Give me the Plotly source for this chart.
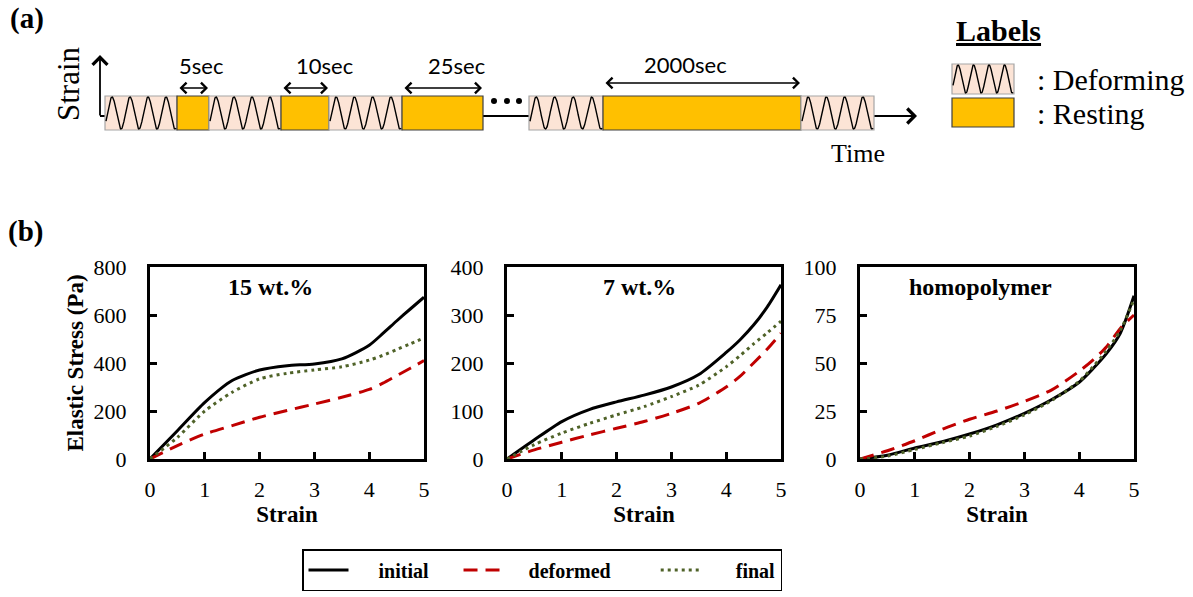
import numpy as np
import plotly.graph_objects as go

W, H = 1193, 597

# ---------------- data: panel (b) ----------------
strain = [0, 0.5, 1, 1.5, 2, 2.5, 3, 3.5, 4, 4.25, 4.5, 4.75, 5]
p15_initial = [0, 118, 236, 327, 371, 389, 396, 417, 474, 523, 575, 625, 674]
p15_deformed = [0, 56, 104, 139, 174, 202, 229, 257, 290, 316, 347, 378, 410]
p15_final = [0, 90, 200, 278, 334, 357, 371, 384, 412, 432, 456, 480, 505]
p7_initial = [0, 40, 78, 103, 119, 133, 150, 176, 222, 248, 279, 317, 363]
p7_deformed = [0, 19, 35, 50, 64, 78, 95, 116, 150, 172, 200, 229, 262]
p7_final = [0, 30, 54, 74, 92, 109, 130, 154, 192, 215, 240, 263, 287]
homo_initial = [0, 2, 5.7, 9, 13, 17.8, 23.8, 31, 40, 47, 55, 65.5, 85]
homo_deformed = [0, 4.3, 9.5, 15.5, 20.7, 25, 30, 36, 45.7, 51.5, 58.5, 68, 75]
homo_final = [0, 1.5, 5, 8.5, 12, 17, 23, 30.5, 40.5, 48, 56.5, 67, 83]

panel_titles = ["15 wt.%", "7 wt.%", "homopolymer"]
y_ticks = [[0, 200, 400, 600, 800], [0, 100, 200, 300, 400], [0, 25, 50, 75, 100]]
x_ticks = [0, 1, 2, 3, 4, 5]
series_names = ["initial", "deformed", "final"]

# ---------------- data: panel (a) schematic ----------------
seg_kinds = ["deform", "rest", "deform", "rest", "deform", "rest", "gap", "deform", "rest", "deform"]
seg_widths = [72, 32, 72, 48, 73, 81, 46, 74, 198, 73]
rest_labels = ["5sec", "10sec", "25sec", "2000sec"]

# ---------------- styles / layout ----------------
SERIF = "Liberation Serif"
SANS = "Lato"
colors = {"initial": "black", "deformed": "#C00000", "final": "#4F6228"}
dashes = {"initial": "solid", "deformed": "14px,8px", "final": "3px,4px"}
DEF_FILL, DEF_LINE = "#FCE4D6", "#A6A6A6"
REST_FILL, REST_LINE = "#FFC000", "#3F3F3F"
NB = "\u00a0"
legend_pad = {"initial": (5, 5), "deformed": (4, 8), "final": (6, 0)}


def px_x(p):
    return p / W


def px_y(p):
    return 1 - p / H


fig = go.Figure()

panels = [
    (p15_initial, p15_deformed, p15_final),
    (p7_initial, p7_deformed, p7_final),
    (homo_initial, homo_deformed, homo_final),
]
x_dom = [(150, 424), (507, 781), (860, 1134)]
y_dom = (459, 267)
title_fx = [0.438, 0.485, 0.438]
tick_font = dict(family=SERIF, size=22, color="black")

for i, series in enumerate(panels):
    ax = "" if i == 0 else str(i + 1)
    for name, vals in zip(series_names, series):
        lp, tp = legend_pad[name]
        fig.add_trace(go.Scatter(
            x=strain, y=vals, mode="lines", name=NB * lp + name + NB * tp,
            line=dict(color=colors[name], width=3, dash=dashes[name], shape="spline", smoothing=0.7),
            xaxis="x" + ax, yaxis="y" + ax, showlegend=(i == 0), hoverinfo="skip",
        ))
    common = dict(showline=True, linecolor="black", linewidth=3, mirror=True,
                  ticks="inside", ticklen=7, tickwidth=2.5, tickcolor="black",
                  showgrid=False, zeroline=False, automargin=False,
                  tickfont=tick_font)
    fig.layout["xaxis" + ax] = dict(
        common, domain=[px_x(x_dom[i][0]), px_x(x_dom[i][1])], anchor="y" + ax,
        range=[0, 5], tickvals=x_ticks, ticklabelstandoff=9,
        title=dict(text="<b>Strain</b>", font=dict(family=SERIF, size=23, color="black"), standoff=0),
    )
    ydict = dict(
        common, domain=[px_y(y_dom[0]), px_y(y_dom[1])], anchor="x" + ax,
        range=[0, y_ticks[i][-1]], tickvals=y_ticks[i], ticklabelstandoff=16,
    )
    if i == 0:
        ydict["title"] = dict(text="<b>Elastic Stress (Pa)</b>",
                              font=dict(family=SERIF, size=23, color="black"), standoff=4)
    fig.layout["yaxis" + ax] = ydict
    fig.add_annotation(
        text="<b>%s</b>" % panel_titles[i], xref="x%s domain" % ax, yref="y%s domain" % ax,
        x=title_fx[i], y=0.895, showarrow=False, xanchor="center", yanchor="middle",
        font=dict(family=SERIF, size=24, color="black"),
    )

# ---------------- panel (a): schematic on a pixel-scaled hidden axis ----------------
fig.layout["xaxis4"] = dict(domain=[0, 1], range=[0, W], visible=False, anchor="y4",
                            fixedrange=True, automargin=False)
fig.layout["yaxis4"] = dict(domain=[0, 1], range=[H, 0], visible=False, anchor="x4",
                            fixedrange=True, automargin=False)

shapes = []
BASE_Y = 116
TOP, BOT = 96, 130
x0_time = 105

# baseline of the time axis (under the blocks)
shapes.append(dict(type="line", xref="x4", yref="y4", x0=100, x1=912, y0=BASE_Y, y1=BASE_Y,
                   line=dict(color="black", width=1.8), layer="below"))


def wave_trace(xa, xb, ytop, ybot, periods=4.0):
    xs = np.linspace(xa + 1, xb - 1, 200)
    P = (xb - xa) / periods
    mid = (ytop + ybot) / 2
    amp = (ybot - ytop) / 2 - 1
    ys = mid - amp * np.cos(2 * np.pi * (xs - xa - 0.39 * P) / P)
    return go.Scatter(x=xs, y=ys, mode="lines", line=dict(color="black", width=1.4),
                      xaxis="x4", yaxis="y4", showlegend=False, hoverinfo="skip")


annotations = []
label_dx = [8, 19, 14, -17]
arrow_y = [88, 88, 88, 83]
label_y = [65, 65, 65, 64]
cur = x0_time
r = 0
for kind, w in zip(seg_kinds, seg_widths):
    xa, xb = cur, cur + w
    if kind == "deform":
        shapes.append(dict(type="rect", xref="x4", yref="y4", x0=xa, x1=xb, y0=TOP, y1=BOT,
                           fillcolor=DEF_FILL, line=dict(color=DEF_LINE, width=1.2), layer="below"))
        fig.add_trace(wave_trace(xa, xb, TOP, BOT))
    elif kind == "rest":
        shapes.append(dict(type="rect", xref="x4", yref="y4", x0=xa, x1=xb, y0=TOP, y1=BOT,
                           fillcolor=REST_FILL, line=dict(color=REST_LINE, width=1.2), layer="below"))
        annotations.append(dict(xref="x4", yref="y4", axref="x4", ayref="y4",
                                x=xb - 1, y=arrow_y[r], ax=xa + 1, ay=arrow_y[r], text="",
                                showarrow=True, arrowhead=4, startarrowhead=4, arrowside="end+start",
                                arrowsize=1.6, startarrowsize=1.6, arrowwidth=1.3, arrowcolor="black"))
        annotations.append(dict(xref="x4", yref="y4", x=(xa + xb) / 2 + label_dx[r], y=label_y[r],
                                text=rest_labels[r], showarrow=False,
                                font=dict(family=SANS, size=22, color="black")))
        r += 1
    else:
        fig.add_trace(go.Scatter(x=[xa + 11, xa + 24, xa + 36], y=[101, 101, 101], mode="markers",
                                 marker=dict(color="black", size=6), xaxis="x4", yaxis="y4",
                                 showlegend=False, hoverinfo="skip"))
    cur = xb

# strain (vertical) arrow and time arrow heads
annotations.append(dict(xref="x4", yref="y4", axref="x4", ayref="y4", x=100, y=55, ax=100, ay=BASE_Y + 1,
                        text="", showarrow=True, arrowhead=4, arrowsize=1.6, arrowwidth=1.8,
                        arrowcolor="black"))
annotations.append(dict(xref="x4", yref="y4", axref="x4", ayref="y4", x=917, y=BASE_Y, ax=885, ay=BASE_Y,
                        text="", showarrow=True, arrowhead=4, arrowsize=1.6, arrowwidth=1.8,
                        arrowcolor="black"))
annotations.append(dict(xref="x4", yref="y4", x=68, y=84, text="Strain", textangle=-90, showarrow=False,
                        font=dict(family=SERIF, size=31, color="black")))
annotations.append(dict(xref="x4", yref="y4", x=858, y=153, text="Time", showarrow=False,
                        font=dict(family=SERIF, size=26, color="black")))

# Labels key
annotations.append(dict(xref="x4", yref="y4", x=998, y=30, text="<u><b>Labels</b></u>", showarrow=False,
                        font=dict(family=SERIF, size=30, color="black")))
shapes.append(dict(type="rect", xref="x4", yref="y4", x0=952, x1=1014, y0=64, y1=94,
                   fillcolor=DEF_FILL, line=dict(color=DEF_LINE, width=1.2), layer="below"))
fig.add_trace(wave_trace(952, 1014, 64, 94))
shapes.append(dict(type="rect", xref="x4", yref="y4", x0=952, x1=1014, y0=98, y1=127,
                   fillcolor=REST_FILL, line=dict(color=REST_LINE, width=1.2), layer="below"))
annotations.append(dict(xref="x4", yref="y4", x=1035, y=79, xanchor="left", text=": Deforming",
                        showarrow=False, font=dict(family=SERIF, size=30, color="black")))
annotations.append(dict(xref="x4", yref="y4", x=1035, y=113, xanchor="left", text=": Resting",
                        showarrow=False, font=dict(family=SERIF, size=30, color="black")))

# panel letters
annotations.append(dict(xref="paper", yref="paper", x=px_x(27), y=px_y(19), xanchor="center",
                        yanchor="middle", text="<b>(a)</b>",
                        showarrow=False, font=dict(family=SERIF, size=29, color="black")))
annotations.append(dict(xref="paper", yref="paper", x=px_x(25), y=px_y(231), xanchor="center",
                        yanchor="middle", text="<b>(b)</b>",
                        showarrow=False, font=dict(family=SERIF, size=29, color="black")))

for a in annotations:
    fig.add_annotation(**a)
for s in shapes:
    fig.add_shape(**s)

fig.update_layout(
    width=W, height=H, margin=dict(l=0, r=0, t=0, b=0, pad=0), autosize=False,
    font=dict(family=SERIF, color="black"),
    paper_bgcolor="white", plot_bgcolor="rgba(0,0,0,0)",
    hovermode=False,
    legend=dict(orientation="h", x=px_x(302), y=px_y(549), xanchor="left", yanchor="top",
                bordercolor="black", borderwidth=1.5, bgcolor="white",
                font=dict(family=SERIF, size=20, color="black", weight="bold"),
                itemwidth=40),
)
fig.update_xaxes(tickfont=tick_font, selector=dict(visible=None))
fig.update_yaxes(tickfont=tick_font, selector=dict(visible=None))

fig.write_html("out.html", config={"displayModeBar": False},
               post_script="document.body.style.margin='0';")
